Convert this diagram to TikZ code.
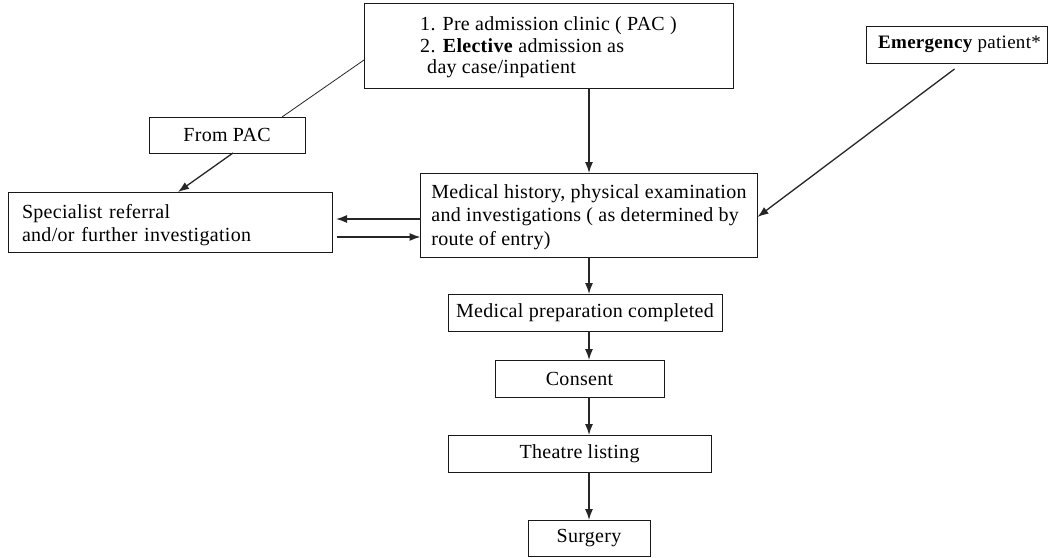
\documentclass[tikz,border=0pt]{standalone}
\usepackage{fontspec}
\setmainfont{Liberation Serif}[LetterSpace=1.5]
\usetikzlibrary{arrows.meta}
\newcommand{\boxfont}{\fontsize{20}{23.5}\selectfont}
\newcommand{\tightfont}{\fontsize{20}{21.5}\selectfont}
\newcommand{\smallboxfont}{\fontsize{19}{22}\selectfont}
\tikzset{
  box/.style={draw=black!90, line width=0.9pt, inner sep=0pt, outer sep=0pt,
    align=left, font=\boxfont},
  multi/.style={text depth=0pt},
  arr/.style={line width=1.3pt, draw=black!85, -{Latex[length=11pt,width=8pt]}},
  plain/.style={line width=0.8pt, draw=black!85}
}
\begin{document}
\begin{tikzpicture}[x=1pt, y=-1pt]
\useasboundingbox (0,0) rectangle (1048,557);

% boxes
\node[box, multi, font=\tightfont, minimum width=369pt, minimum height=85pt] (top) at (548.5,45.5)
  {1. Pre admission clinic ( PAC )\\2. \textbf{Elective} admission as\\\hspace{7pt}day case/inpatient};
\node[box, font=\smallboxfont, minimum width=181pt, minimum height=37pt] (emerg) at (956.5,44.5)
  {\hspace{6pt}\textbf{Emergency} patient*};
\node[box, minimum width=156pt, minimum height=36pt] (frompac) at (227,135)
  {From PAC};
\node[box, text width=296pt, inner xsep=14pt, text depth=22pt, minimum height=60pt] (spec) at (170,222)
  {Specialist referral\\and/or further investigation};
\node[box, multi, minimum width=337pt, minimum height=84pt] (med) at (589,215)
  {Medical history, physical examination\\and investigations ( as determined by\\route of entry)};
\node[box, minimum width=274pt, minimum height=37pt] (prep) at (585,312.5)
  {Medical preparation completed};
\node[box, minimum width=169pt, minimum height=37pt] (consent) at (579.5,378.5)
  {Consent};
\node[box, minimum width=263pt, minimum height=37pt] (theatre) at (579.5,453.5)
  {Theatre listing};
\node[box, minimum width=122pt, minimum height=36pt] (surgery) at (589,538)
  {Surgery};

% main vertical flow
\draw[arr] (top.south -| med.north) -- (med.north);
\draw[arr] (med.south) -- (med.south |- prep.north);
\draw[arr] (prep.south -| med.south) -- (consent.north -| med.south);
\draw[arr] (consent.south -| med.south) -- (theatre.north -| med.south);
\draw[arr] (theatre.south -| med.south) -- (surgery.north);

% side routes
\draw[plain] ([yshift=-14.5pt]top.west) -- ([xshift=55pt]frompac.north);
\draw[arr] ([xshift=6pt]frompac.south) -- ([xshift=8pt]spec.north);
\draw[arr, shorten >=4pt] ([yshift=-4pt]med.west) -- ([yshift=-4pt]med.west -| spec.east);
\draw[arr, shorten <=5pt] ([yshift=-22pt]med.west -| spec.east) -- ([yshift=-22pt]med.west);
\draw[arr] ([xshift=-2pt,yshift=-6pt]emerg.south) -- ([yshift=-2pt]med.east);
\end{tikzpicture}
\end{document}
